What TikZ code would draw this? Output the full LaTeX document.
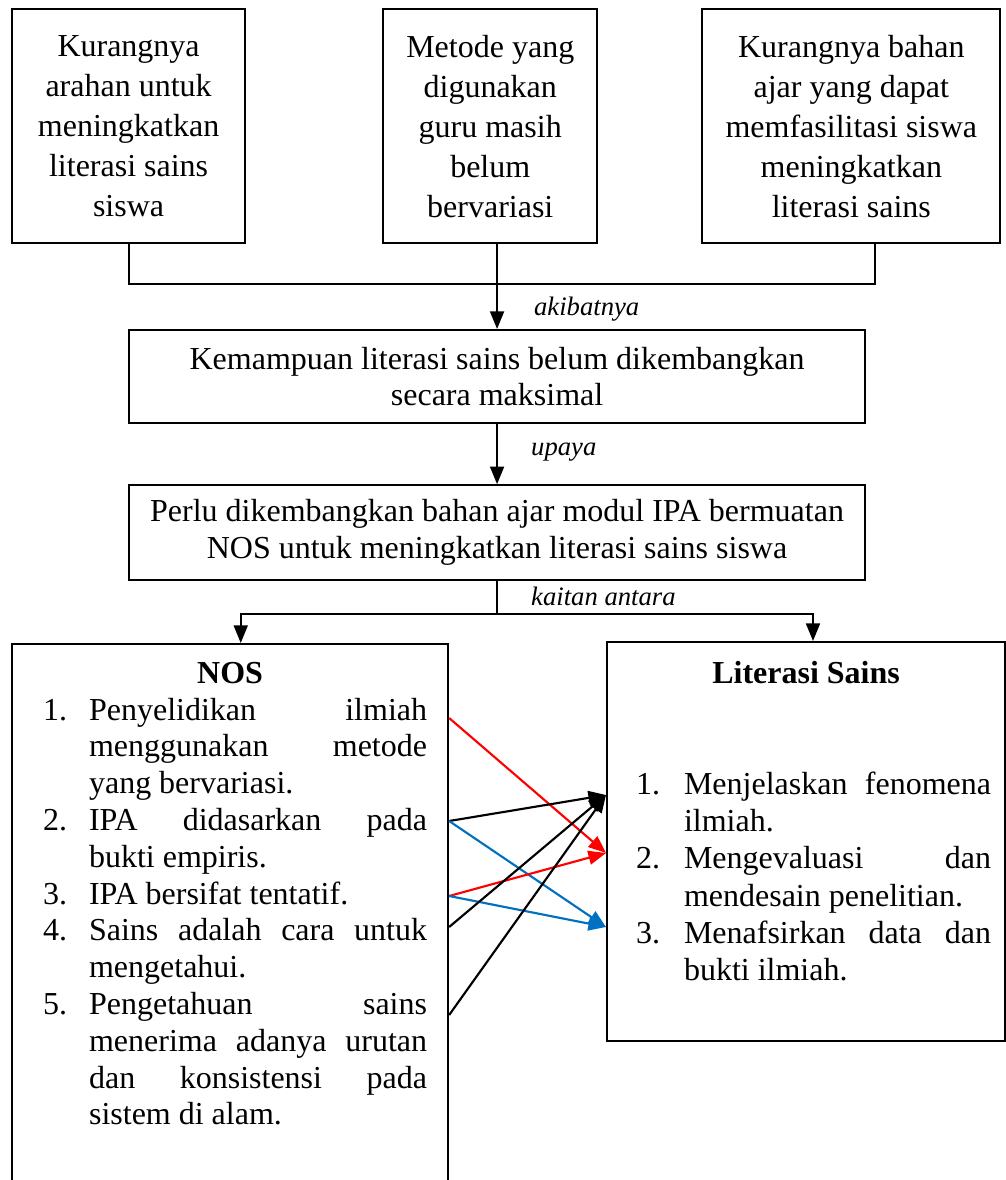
\documentclass[tikz,border=0pt]{standalone}
\usepackage{fontspec}
\setmainfont{Liberation Serif}
\usepackage{xcolor}
\definecolor{lineRed}{HTML}{FF0000}
\definecolor{lineBlue}{HTML}{0070C0}
\usepackage{enumitem}
\usepackage{tikz}
\usetikzlibrary{positioning,calc,arrows.meta}
\hyphenpenalty=10000
\exhyphenpenalty=10000
\tolerance=10000
\tikzset{%
  problemBox/.style={%
    rectangle,
    draw=black,
    line width=0.8pt,
    inner sep=0pt,
    minimum width=87.4pt,
    minimum height=87.75pt,
    align=center,
    font=\fontsize{12}{15}\selectfont
  },
  mainBox/.style={%
    rectangle,
    draw=black,
    line width=0.8pt,
    inner sep=0pt,
    minimum width=276pt,
    align=center,
    font=\fontsize{12}{13.8}\selectfont
  },
  frameBox/.style={%
    rectangle,
    draw=black,
    line width=0.8pt,
    inner sep=0pt
  },
  listText/.style={%
    inner xsep=0pt,
    inner ysep=7pt,
    align=justify,
    font=\fontsize{12}{13.8}\selectfont
  },
  arrowLine/.style={%
    -{Triangle[length=6.6pt,width=5.2pt]},
    line width=0.8pt
  },
  tagText/.style={%
    anchor=west,
    inner sep=0pt,
    font=\fontsize{10}{12}\selectfont\itshape
  }
}

\begin{document}
\begin{tikzpicture}[x=0.375pt, y=-0.375pt]
\useasboundingbox (0,0) rectangle (1006,1180);
\clip (0,0) rectangle (1006,1180);

% masalah
\node[problemBox, anchor=north west] (kurangArahan) at (11,8) {Kurangnya\\arahan untuk\\meningkatkan\\literasi sains\\siswa};
\node[problemBox, minimum width=80.25pt, right=51pt of kurangArahan] (metodeGuru) {Metode yang\\digunakan\\guru masih\\belum\\bervariasi};
\node[problemBox, minimum width=111.75pt, right=38.6pt of metodeGuru] (kurangBahan) {Kurangnya bahan\\ajar yang dapat\\memfasilitasi siswa\\meningkatkan\\literasi sains};

% akibat dan upaya
\node[mainBox, minimum height=34.9pt, anchor=north west] (kemampuan) at (128,329) {Kemampuan literasi sains belum dikembangkan\\secara maksimal};
\node[mainBox, minimum height=35.6pt, below=22.5pt of kemampuan] (perluModul) {Perlu dikembangkan bahan ajar modul IPA bermuatan\\NOS untuk meningkatkan literasi sains siswa};

% NOS
\node[frameBox, minimum width=163.5pt, minimum height=220pt, anchor=north west] (nos) at (11,643) {};
\node[listText, text width=147.75pt, anchor=north] (nosList) at (nos.north) {%
  {\centering\bfseries NOS\par}
  \begin{enumerate}[nosep, leftmargin=21pt, labelwidth=17.25pt, labelsep=0pt, align=left]
    \item Penyelidikan ilmiah\linebreak menggunakan metode\linebreak yang bervariasi.
    \item IPA didasarkan pada\linebreak bukti empiris.
    \item IPA bersifat tentatif.
    \item Sains adalah cara untuk\linebreak mengetahui.
    \item Pengetahuan sains\linebreak menerima adanya urutan\linebreak dan konsistensi pada\linebreak sistem di alam.
  \end{enumerate}};

% Literasi Sains
\node[frameBox, minimum width=149.25pt, minimum height=149.6pt, anchor=north west] (literasi) at (606,641) {};
\node[listText, inner ysep=7.5pt, text width=138.75pt, anchor=north, font=\fontsize{12}{14}\selectfont] (literasiList) at (literasi.north) {%
  {\centering\bfseries Literasi Sains\par}\vspace{27.45pt}
  \begin{enumerate}[nosep, leftmargin=23.6pt, labelwidth=18pt, labelsep=0pt, align=left]
    \item Menjelaskan fenomena\linebreak ilmiah.
    \item Mengevaluasi dan\linebreak mendesain penelitian.
    \item Menafsirkan data dan\linebreak bukti ilmiah.
  \end{enumerate}};

% penghubung
\draw[line width=0.8pt] (kurangArahan.south) -- ++(0,40) -| ([xshift=9pt]kurangBahan.south);
\draw[arrowLine] (metodeGuru.south -| kemampuan.north) -- node[tagText, pos=0.77, xshift=13.5pt] {akibatnya} (kemampuan.north);
\draw[arrowLine] (kemampuan) -- node[tagText, pos=0.47, xshift=12.4pt] {upaya} (perluModul);
\coordinate[below=12.4pt of perluModul.south] (cabang);
\draw[line width=0.8pt] (perluModul.south) -- node[tagText, pos=0.45, xshift=12.4pt] {kaitan antara} (cabang);
\draw[arrowLine] (cabang) -| ([xshift=4pt]nos.north);
\draw[arrowLine] (cabang) -| ([xshift=2.6pt]literasi.north);

% kaitan NOS - literasi sains
\foreach \yA/\yB/\warna in {718/853/lineRed, 821/795/black, 821/927/lineBlue, 896/853/lineRed, 896/927/lineBlue, 927/795/black, 1015/795/black}
  \draw[arrowLine, \warna] (nos.east |- 0,\yA) -- (literasi.west |- 0,\yB);
\end{tikzpicture}
\end{document}
